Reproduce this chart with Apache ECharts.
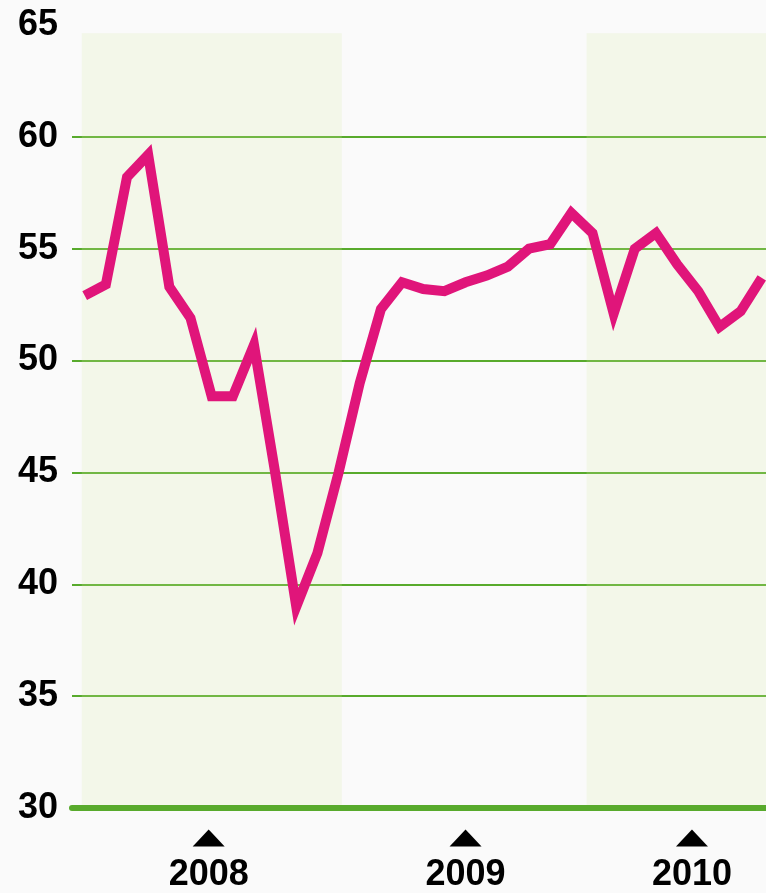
<!DOCTYPE html>
<html>
<head>
<meta charset="utf-8">
<script src="https://cdn.jsdelivr.net/npm/echarts@6/dist/echarts.min.js"></script>
<style>
html,body{margin:0;padding:0;background:#fafafa;}
#c{width:766px;height:893px;}
</style>
</head>
<body>
<div id="c"></div>
<script>
// Monthly index values, Jan 2008 .. Sep 2010
var months = ['2008-01','2008-02','2008-03','2008-04','2008-05','2008-06','2008-07','2008-08','2008-09','2008-10','2008-11','2008-12',
              '2009-01','2009-02','2009-03','2009-04','2009-05','2009-06','2009-07','2009-08','2009-09','2009-10','2009-11','2009-12',
              '2010-01','2010-02','2010-03','2010-04','2010-05','2010-06','2010-07','2010-08','2010-09'];
var values = [52.9, 53.4, 58.2, 59.2, 53.3, 51.9, 48.4, 48.4, 50.7, 45.0, 39.0, 41.4,
              45.0, 49.0, 52.3, 53.5, 53.2, 53.1, 53.5, 53.8, 54.2, 55.0, 55.2, 56.6,
              55.7, 52.1, 55.0, 55.7, 54.3, 53.1, 51.5, 52.2, 53.7];
// Year labels and their positions (in month-index units)
var yearLabels = ['2008', '2009', '2010'];
var yearPos = [5.86, 18.0, 28.7];
// Shaded year bands (month-index units)
var bandStart = [-0.14, 23.72];
var bandEnd = [12.15, 32.2];
var yTicks = [30, 35, 40, 45, 50, 55, 60, 65];

var green = '#58aa2c';
var chart = echarts.init(document.getElementById('c'));
var seriesData = values.map(function (v, i) { return [i, v]; });

chart.setOption({
  backgroundColor: '#fafafa',
  animation: false,
  grid: { left: 72, right: 0, top: 25, bottom: 84, containLabel: false },
  xAxis: {
    type: 'value',
    min: -0.6,
    max: 32.2,
    splitLine: { show: false },
    axisTick: { show: false },
    axisLine: { show: true, z: 5, lineStyle: { color: green, width: 6 } },
    axisLabel: {
      customValues: yearPos,
      margin: 49,
      fontSize: 36,
      fontWeight: 'bold',
      color: '#000',
      fontFamily: 'Liberation Sans, Arial, sans-serif',
      formatter: function (v) {
        for (var i = 0; i < yearPos.length; i++) {
          if (Math.abs(yearPos[i] - v) < 1e-6) return yearLabels[i];
        }
        return '';
      }
    }
  },
  yAxis: {
    type: 'value',
    min: 30,
    max: 65,
    interval: 5,
    axisLine: { show: false },
    axisTick: { show: false },
    axisLabel: {
      margin: 14,
      fontSize: 36,
      fontWeight: 'bold',
      color: '#000',
      fontFamily: 'Liberation Sans, Arial, sans-serif',
      padding: [0, 0, 6, 0]
    },
    splitLine: {
      show: true,
      lineStyle: {
        width: 2,
        color: yTicks.map(function (t, i) { return (i === 0 || i === yTicks.length - 1) ? 'rgba(0,0,0,0)' : green; })
      }
    }
  },
  series: [{
    type: 'line',
    data: seriesData,
    showSymbol: false,
    symbol: 'none',
    clip: true,
    z: 3,
    lineStyle: { color: '#e0157a', width: 10, join: 'miter', miterLimit: 10, cap: 'butt' },
    markArea: {
      silent: true,
      itemStyle: { color: 'rgba(215,235,165,0.2)' },
      data: bandStart.map(function (s, i) {
        return [{ coord: [s, 30.15] }, { coord: [bandEnd[i], 64.63] }];
      })
    },
    markPoint: {
      silent: true,
      symbol: 'triangle',
      symbolSize: [32, 17],
      symbolOffset: [0, 30],
      itemStyle: { color: '#000' },
      label: { show: false },
      data: yearPos.map(function (p) { return { coord: [p, 30] }; })
    }
  }]
});
</script>
</body>
</html>
